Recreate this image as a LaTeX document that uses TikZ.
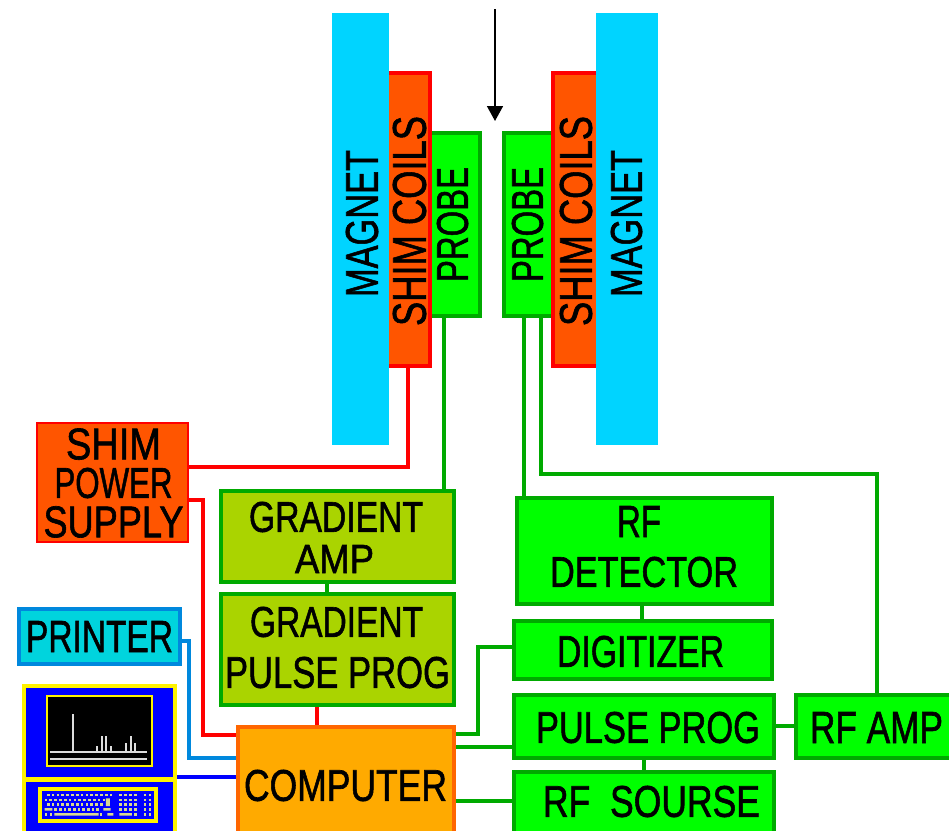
\documentclass[tikz,border=0pt]{standalone}
\usepackage{graphicx}
\usepackage{fontspec}
\setmainfont[FakeBold=1.5]{Liberation Sans}
\usetikzlibrary{arrows.meta}
\definecolor{mag}{HTML}{00D4FF}
\definecolor{shimf}{HTML}{FF5500}
\definecolor{gfill}{HTML}{00FF00}
\definecolor{gline}{HTML}{00AA00}
\definecolor{olive}{HTML}{AAD400}
\definecolor{orf}{HTML}{FFAA00}
\definecolor{orl}{HTML}{FF6600}
\definecolor{prf}{HTML}{00D4DD}
\definecolor{prl}{HTML}{0088DD}
\definecolor{keyc}{HTML}{D8D890}
\definecolor{peak}{HTML}{DDDDDD}
\tikzset{
  every node/.style={inner sep=0pt,outer sep=0pt},
  magnetbox/.style={fill=mag},
  shimbox/.style={draw=red,line width=4pt,fill=shimf},
  supplybox/.style={draw=red,line width=2pt,fill=shimf},
  greenbox/.style={draw=gline,line width=4pt,fill=gfill},
  olivebox/.style={draw=gline,line width=4pt,fill=olive},
  compbox/.style={draw=orl,line width=4pt,fill=orf},
  printbox/.style={draw=prl,line width=4pt,fill=prf},
  greenwire/.style={draw=gline,line width=4pt,line join=miter},
  redwire/.style={draw=red,line width=4pt,line join=miter},
  printwire/.style={draw=prl,line width=4pt,line join=miter},
  bluewire/.style={draw=blue,line width=4pt},
  probearrow/.style={draw=black,line width=1.6pt,-{Triangle[length=15pt,width=16pt]}},
  txt/.style={text=black,anchor=center}
}
% box: name, style, x1,y1,x2,y2 (outer edges) and line width
\newcommand{\bx}[7]{%
  \pgfmathsetmacro{\bw}{#5-#3-#7}\pgfmathsetmacro{\bh}{#6-#4-#7}%
  \node[#2,minimum width=\bw pt,minimum height=\bh pt] (#1) at ({(#3+#5)/2},{(#4+#6)/2}) {};}
% text: name, x1,y1,x2,y2 (ink extents), text
\newcommand{\tl}[6]{%
  \pgfmathsetmacro{\tw}{#4-#2}\pgfmathsetmacro{\th}{#5-#3}%
  \node[txt] (#1) at ({(#2+#4)/2},{(#3+#5)/2}) {\resizebox{\tw pt}{\th pt}{#6}};}
% vertical text: same, reading bottom to top
\newcommand{\tv}[6]{%
  \pgfmathsetmacro{\tw}{#5-#3}\pgfmathsetmacro{\th}{#4-#2}%
  \node[txt,rotate=90] (#1) at ({(#2+#4)/2},{(#3+#5)/2}) {\resizebox{\tw pt}{\th pt}{#6}};}
\begin{document}
\begin{tikzpicture}[x=1pt,y=-1pt]
\path[use as bounding box,clip] (0,0) rectangle (949,830);
\fill[white] (0,0) rectangle (949,830);
\pgfdeclarelayer{boxes}\pgfsetlayers{main,boxes}
\begin{pgfonlayer}{boxes}
\bx{probeL}{greenbox}{420}{131}{482}{318}{4}
\bx{probeR}{greenbox}{502}{131}{560}{318}{4}
\bx{shimL}{shimbox}{380}{71}{432}{368}{4}
\bx{shimR}{shimbox}{551}{71}{604}{368}{4}
\bx{magL}{magnetbox}{332}{13}{389}{445}{0}
\bx{magR}{magnetbox}{596}{13}{658}{445}{0}
\bx{supply}{supplybox}{36}{422}{189}{543}{2}
\bx{gamp}{olivebox}{219}{489}{456}{584}{4}
\bx{gpulse}{olivebox}{219}{592}{456}{707}{4}
\bx{computer}{compbox}{236}{725}{456}{860}{4}
\bx{printer}{printbox}{17}{607}{182}{666}{4}
\bx{rfdet}{greenbox}{515}{496}{774}{606}{4}
\bx{digit}{greenbox}{512}{619}{774}{681}{4}
\bx{pprog}{greenbox}{512}{693}{776}{760}{4}
\bx{rfamp}{greenbox}{794}{693}{954}{760}{4}
\bx{rfsrc}{greenbox}{512}{770}{776}{860}{4}
% monitor and keyboard
\node[fill=yellow,minimum width=155pt,minimum height=150pt] (console) at (99.5,759) {};
\fill[blue] (26,688) rectangle (173,777);
\fill[blue] (26,782) rectangle (173,835);
\draw[yellow,line width=2pt,fill=black] (47,696) rectangle (152,766);
\draw[peak,line width=2.6pt] (50,752) -- (147,752) (50,759) -- (147,759);
\draw[peak,line width=2.4pt]
  (73,752) -- (73,714) (97,752) -- (97,746) (102,752) -- (102,736)
  (106,752) -- (106,736) (111,752) -- (111,746) (126,752) -- (126,743)
  (131,752) -- (131,736) (135,752) -- (135,743);
\draw[yellow,line width=4pt] (40,789) rectangle (156,821);
\begin{scope}[shift={(20,680)},x=0.3333pt,y=-0.3333pt]
  \foreach \yy/\a/\b/\c in {345/85/99.5/275,360/78/92.5/262,374/85/99.5/255}{
    \foreach \k in {\a,\b,...,\c} \fill[keyc] (\k-4,\yy-4) rectangle (\k+4,\yy+4);
  }
  \foreach \k in {107,121,...,240} \fill[keyc] (\k-4,384) rectangle (\k+4,392);
  \foreach \k in {78,93,243,347} \fill[keyc] (\k-4,399) rectangle (\k+4,407);
  \foreach \yy in {345,360,374,388} \foreach \k in {302,317,332,347} \fill[keyc] (\k-4,\yy-4) rectangle (\k+4,\yy+4);
  \foreach \yy in {345,360,374,388,403} \foreach \k in {375,390} \fill[keyc] (\k-4,\yy-4) rectangle (\k+4,\yy+4);
  \fill[keyc] (74,384) rectangle (97,392) (250,384) rectangle (272,392)
    (258,355) rectangle (270,378)
    (103,399) rectangle (236,407) (262,399) rectangle (280,407) (298,399) rectangle (336,407);
\end{scope}
% labels
\tv{tMagL}{346}{150}{378}{297}{MAGNET}
\tv{tShimL}{393}{116}{426}{326}{SHIM COILS}
\tv{tProbeL}{437}{167}{468}{282}{PROBE}
\tv{tProbeR}{512}{167}{543}{282}{PROBE}
\tv{tShimR}{560}{116}{592}{326}{SHIM COILS}
\tv{tMagR}{611}{150}{642}{297}{MAGNET}
\node[txt] (tSupply) at (113.5,483) {\vbox{\offinterlineskip
  \hbox to 140pt{\hss\resizebox{95pt}{31pt}{SHIM}\hss}\vskip 8pt
  \hbox to 140pt{\hss\resizebox{118pt}{30pt}{POWER}\hss}\vskip 8pt
  \hbox to 140pt{\hss\resizebox{140pt}{31pt}{SUPPLY}\hss}}};
\tl{tG1}{249}{502}{423}{532}{GRADIENT}
\tl{tG2}{295}{545}{374}{573}{AMP}
\tl{tG3}{250}{607}{423}{637}{GRADIENT}
\tl{tG4}{225}{657}{450}{688}{PULSE PROG}
\tl{tComp}{244}{770}{447}{801}{COMPUTER}
\tl{tPrint}{26}{621}{173}{652}{PRINTER}
\tl{tR1}{617}{506}{661}{537}{RF}
\tl{tR2}{550}{557}{738}{587}{DETECTOR}
\tl{tDig}{557}{636}{724}{667}{DIGITIZER}
\tl{tPP}{536}{712}{760}{743}{PULSE PROG}
\tl{tAmp}{810}{712}{943}{743}{RF AMP}
\tl{tSrc}{543}{786}{760}{817}{RF\ \ SOURSE}
\end{pgfonlayer}
% guide coordinates for connectors
\coordinate (xShimW) at (408,0);
\coordinate (yShimW) at (0,467);
\coordinate (xProbeL) at (444,0);
\coordinate (xDet) at (524,0);
\coordinate (xAmpA) at (541,0);
\coordinate (yAmp) at (0,474);
\coordinate (xAmpB) at (877,0);
\coordinate (ySupB) at (0,500);
\coordinate (xSupB) at (203,0);
\coordinate (yCompR) at (0,735);
\coordinate (xGa) at (327,0);
\coordinate (xGb) at (317,0);
\coordinate (yPr) at (0,641);
\coordinate (xPr) at (189,0);
\coordinate (yCompP) at (0,758);
\coordinate (yCons) at (0,777);
\coordinate (xDd) at (642,0);
\coordinate (xPs) at (644,0);
\coordinate (yPa) at (0,726);
\coordinate (yCd) at (0,734);
\coordinate (xCd) at (478,0);
\coordinate (yDg) at (0,647);
\coordinate (yCp) at (0,747);
\coordinate (yCs) at (0,801);
\coordinate (arrowTop) at (495,9);
\coordinate (arrowEnd) at (495,121);
% connectors
\draw[probearrow] (arrowTop) -- (arrowEnd);
\draw[redwire] (shimL.south -| xShimW) |- (supply.east |- yShimW);
\draw[redwire] (supply.east |- ySupB) -| (xSupB |- yCompR) -- (computer.west |- yCompR);
\draw[redwire] (gpulse.south -| xGb) -- (computer.north -| xGb);
\draw[greenwire] (probeL.south -| xProbeL) -- (gamp.north -| xProbeL);
\draw[greenwire] (probeR.south -| xDet) -- (rfdet.north -| xDet);
\draw[greenwire] (probeR.south -| xAmpA) |- (xAmpB |- yAmp) -- (rfamp.north -| xAmpB);
\draw[greenwire] (gamp.south -| xGa) -- (gpulse.north -| xGa);
\draw[greenwire] (rfdet.south -| xDd) -- (digit.north -| xDd);
\draw[greenwire] (pprog.south -| xPs) -- (rfsrc.north -| xPs);
\draw[greenwire] (pprog.east |- yPa) -- (rfamp.west |- yPa);
\draw[greenwire] (computer.east |- yCd) -| (xCd |- yDg) -- (digit.west |- yDg);
\draw[greenwire] (computer.east |- yCp) -- (pprog.west |- yCp);
\draw[greenwire] (computer.east |- yCs) -- (rfsrc.west |- yCs);
\draw[printwire] (printer.east |- yPr) -| (xPr |- yCompP) -- (computer.west |- yCompP);
\draw[bluewire] (console.east |- yCons) -- (computer.west |- yCons);
\end{tikzpicture}
\end{document}
